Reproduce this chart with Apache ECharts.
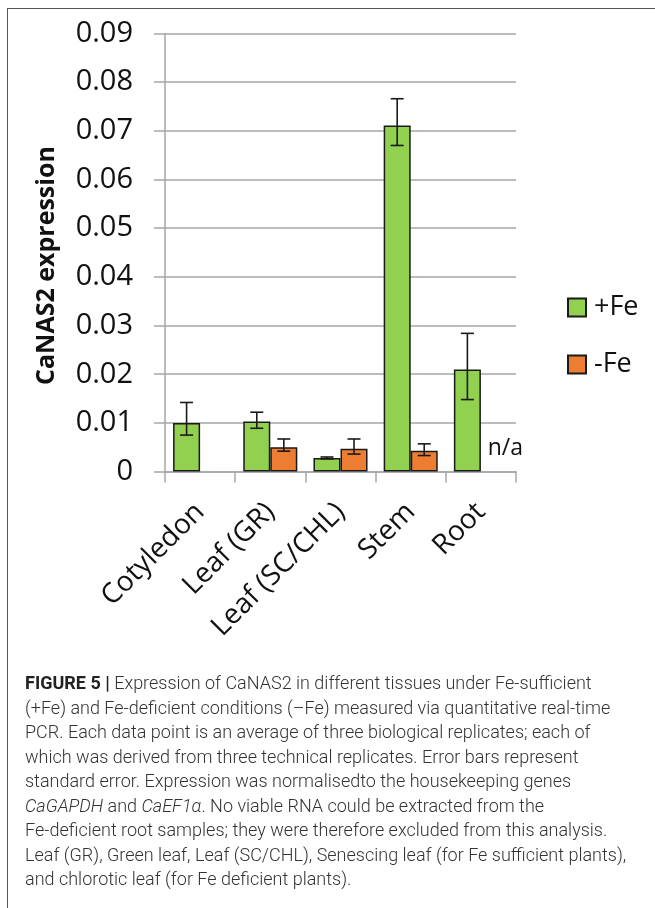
<!DOCTYPE html>
<html>
<head>
<meta charset="utf-8">
<script src="https://cdn.jsdelivr.net/npm/echarts@6/dist/echarts.min.js"></script>
<style>
  html, body { margin: 0; padding: 0; background: #fff; }
  #wrap { position: relative; width: 655px; height: 908px; overflow: hidden; }
  #chart { position: absolute; left: 0; top: 0; width: 655px; height: 908px; }
  #frameTop { position: absolute; left: 7px; top: 8px; width: 660px; height: 0; border-top: 1.5px solid #555; }
  #frameLeft { position: absolute; left: 7px; top: 8px; width: 0; height: 910px; border-left: 1.5px solid #555; }
  #caption { position: absolute; left: 25px; top: 671px; width: 625px; font-family: Roboto, "Liberation Sans", sans-serif;
    font-size: 18px; line-height: 24.5px; color: #333; white-space: nowrap; font-weight: 300; }
  #caption b { font-weight: 700; color: #222; }
</style>
</head>
<body>
<div id="wrap">
  <div id="chart"></div>
  <div id="frameTop"></div>
  <div id="frameLeft"></div>
  <div id="caption">
    <b>FIGURE 5 |</b> Expression of CaNAS2 in different tissues under Fe-sufficient<br>
    (+Fe) and Fe-deficient conditions (–Fe) measured via quantitative real-time<br>
    PCR. Each data point is an average of three biological replicates; each of<br>
    which was derived from three technical replicates. Error bars represent<br>
    standard error. Expression was normalisedto the housekeeping genes<br>
    <i>CaGAPDH</i> and <i>CaEF1α</i>. No viable RNA could be extracted from the<br>
    Fe-deficient root samples; they were therefore excluded from this analysis.<br>
    Leaf (GR), Green leaf, Leaf (SC/CHL), Senescing leaf (for Fe sufficient plants),<br>
    and chlorotic leaf (for Fe deficient plants).
  </div>
</div>
<script>
// ---- data ----
var categories = ['Cotyledon', 'Leaf (GR)', 'Leaf (SC/CHL)', 'Stem', 'Root'];
var plusFe     = [0.0100, 0.0103, 0.0028, 0.0711, 0.0210];
var plusFeHigh = [0.0142, 0.0122, 0.0030, 0.0766, 0.0284];
var plusFeLow  = [0.0075, 0.0089, 0.0026, 0.0670, 0.0148];
var minusFe     = [null, 0.0050, 0.0047, 0.0043, null];
var minusFeHigh = [null, 0.0067, 0.0067, 0.0057, null];
var minusFeLow  = [null, 0.0042, 0.0036, 0.0033, null];
var yTicks = [0, 0.01, 0.02, 0.03, 0.04, 0.05, 0.06, 0.07, 0.08, 0.09];
var naCategory = 'Root';
var naLabel = 'n/a';

var BAR_FRAC = 0.385;

function errData(high, low) {
  var out = [];
  for (var i = 0; i < high.length; i++) {
    if (high[i] != null && low[i] != null) out.push([i, high[i], low[i]]);
  }
  return out;
}

function makeErrRender(shift) {
  return function (params, api) {
    var idx = api.value(0);
    var bw = api.size([1, 0])[0];
    var top = api.coord([idx, api.value(1)]);
    var bot = api.coord([idx, api.value(2)]);
    var x = top[0] + shift * bw * BAR_FRAC / 2;
    var cap = 6.5;
    var style = { stroke: '#1a1a1a', lineWidth: 1.6 };
    return {
      type: 'group',
      children: [
        { type: 'line', shape: { x1: x, y1: top[1], x2: x, y2: bot[1] }, style: style },
        { type: 'line', shape: { x1: x - cap, y1: top[1], x2: x + cap, y2: top[1] }, style: style },
        { type: 'line', shape: { x1: x - cap, y1: bot[1], x2: x + cap, y2: bot[1] }, style: style }
      ]
    };
  };
}

var FONT = '"Open Sans", "DejaVu Sans", sans-serif';
var chart = echarts.init(document.getElementById('chart'), null, { renderer: 'canvas' });
chart.setOption({
  animation: false,
  backgroundColor: '#fff',
  grid: { left: 165, right: 139, top: 33.5, bottom: 436.4, containLabel: false },
  legend: {
    orient: 'vertical',
    left: 562, top: 289,
    itemWidth: 18, itemHeight: 18, itemGap: 30,
    icon: 'rect',
    textStyle: { fontFamily: FONT, fontSize: 27, color: '#111', padding: [0, 0, 0, 3] },
    data: ['+Fe', '-Fe']
  },
  xAxis: {
    type: 'category',
    data: categories,
    axisLine: { lineStyle: { color: '#a6a6a6', width: 1.5 } },
    axisTick: { show: true, length: 11, lineStyle: { color: '#a6a6a6', width: 1.5 } },
    axisLabel: { rotate: 45, interval: 0, margin: 36, fontFamily: FONT, fontSize: 28, color: '#111' }
  },
  yAxis: {
    type: 'value',
    min: 0, max: 0.09, interval: 0.01,
    name: 'CaNAS2 expression',
    nameLocation: 'middle',
    nameGap: 106,
    nameTextStyle: { fontFamily: FONT, fontSize: 25, fontWeight: 'bold', color: '#111', padding: [0, 26, 0, 0] },
    axisLine: { show: true, lineStyle: { color: '#a6a6a6', width: 1.5 } },
    axisTick: { show: true, length: 11, lineStyle: { color: '#a6a6a6', width: 1.5 } },
    splitLine: { lineStyle: { color: '#a6a6a6', width: 1.5 } },
    axisLabel: {
      margin: 32, fontFamily: FONT, fontSize: 29, color: '#111',
      formatter: function (v) {
        var t = yTicks.find(function (k) { return Math.abs(k - v) < 1e-9; });
        return t === 0 ? '0' : (t != null ? t.toFixed(2) : '');
      }
    }
  },
  series: [
    {
      name: '+Fe', type: 'bar', data: plusFe,
      barWidth: (BAR_FRAC * 100) + '%', barGap: '0%',
      itemStyle: { color: '#92d050', borderColor: '#1a1a1a', borderWidth: 1.5 }
    },
    {
      name: '-Fe', type: 'bar', data: minusFe,
      barWidth: (BAR_FRAC * 100) + '%', barGap: '0%',
      itemStyle: { color: '#ed7d31', borderColor: '#1a1a1a', borderWidth: 1.5 },
      markPoint: {
        symbol: 'circle', symbolSize: 0,
        data: [{ coord: [naCategory, 0], value: naLabel }],
        label: { show: true, formatter: naLabel, position: 'inside', offset: [11, -23],
          fontFamily: FONT, fontSize: 23, color: '#111' }
      }
    },
    {
      name: 'errPlus', type: 'custom', data: errData(plusFeHigh, plusFeLow),
      renderItem: makeErrRender(-1), encode: { x: 0, y: [1, 2] }, z: 5, silent: true
    },
    {
      name: 'errMinus', type: 'custom', data: errData(minusFeHigh, minusFeLow),
      renderItem: makeErrRender(1), encode: { x: 0, y: [1, 2] }, z: 5, silent: true
    }
  ]
});
</script>
</body>
</html>
